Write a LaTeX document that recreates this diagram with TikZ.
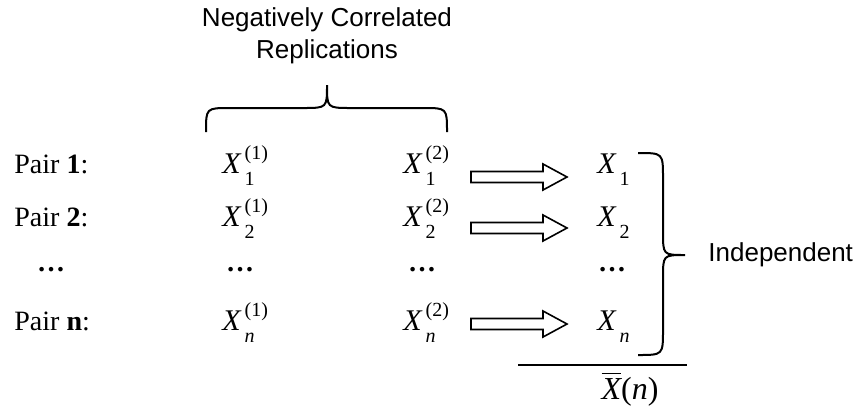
\documentclass[tikz,border=0pt]{standalone}
\usepackage{amsmath}
\usepackage{fontspec}
\setmainfont{Liberation Serif}
\newfontfamily\arialfont{Liberation Sans}
\usetikzlibrary{calc}

% X with stacked index and replication number
\newcommand{\scr}{\fontsize{10}{10}\selectfont}
\newcommand{\xvar}[2]{\textit{X}\kern1.5pt\makebox[0pt][l]{\raisebox{7pt}{\scr #2}}\raisebox{-6pt}{\scr #1}}

% hollow block arrow between two named nodes
\newcommand{\blockarrow}[3]{%
  \coordinate (s) at ($(#1.base west)+(68,#3)$);
  \coordinate (e) at ($(#2.base west)+(-30,#3)$);
  \draw[line width=0.8pt] ($(s)+(0,-5.5)$) -- ($(e)+(-24,-5.5)$) -- ($(e)+(-24,-13)$)
    -- (e) -- ($(e)+(-24,13)$) -- ($(e)+(-24,5.5)$) -- ($(s)+(0,5.5)$) -- cycle;
}

\begin{document}
\begin{tikzpicture}[x=0.5pt, y=-0.5pt,
    every node/.style={font=\fontsize{14}{16}\selectfont, inner sep=0pt},
    lbl/.style={anchor=base west},
    var/.style={anchor=base west, font=\fontsize{15}{16}\selectfont},
    dots/.style={anchor=base},
    sans/.style={font=\arialfont\fontsize{13}{16}\selectfont},
    brace/.style={line width=1pt}]
    \useasboundingbox (0,0) rectangle (861,408);

    % Title over the pairs
    \node[sans, align=center] (title) at (327,36) {Negatively Correlated\\Replications};

    % Rows
    \foreach \r/\y in {1/173, 2/226} {
        \node[lbl] (p\r) at (14,\y) {Pair \textbf{\r}:};
        \node[var] (a\r) at (222,\y) {\xvar{\r}{(1)}};
        \node[var] (b\r) at (403,\y) {\xvar{\r}{(2)}};
        \node[var] (c\r) at (597,\y) {\xvar{\r}{}};
    }
    \node[dots] (pd) at (51,271) {\textbf{\ldots}};
    \node[dots] (ad) at (240,271) {\textbf{\ldots}};
    \node[dots] (bd) at (422,271) {\textbf{\ldots}};
    \node[dots] (cd) at (612,271) {\textbf{\ldots}};
    \node[lbl] (pn) at (14,330) {Pair \textbf{n}:};
    \node[var] (an) at (222,330) {\xvar{\textit{n}}{(1)}};
    \node[var] (bn) at (403,330) {\xvar{\textit{n}}{(2)}};
    \node[var] (cn) at (597,330) {\xvar{\textit{n}}{}};

    % Arrows
    \blockarrow{b1}{c1}{4}
    \blockarrow{b2}{c2}{2}
    \blockarrow{bn}{cn}{-6}

    % Top brace
    \draw[brace] (206,132) .. controls (206,108) .. (230,108) -- (303,108)
        .. controls (327,108) .. (327,85) .. controls (327,108) .. (351,108)
        -- (423,108) .. controls (447,108) .. (447,132);

    % Right brace
    \draw[brace] (638,153) .. controls (663,153) .. (663,178) -- (663,232)
        .. controls (663,255) .. (685,255) .. controls (663,255) .. (663,278)
        -- (663,330) .. controls (663,355) .. (638,355);
    \node[sans, anchor=west] (indep) at (708,255) {Independent};

    % Sample mean
    \draw[line width=0.8pt] (518,365) -- (687,365);
    \node[anchor=base, font=\fontsize{16}{16}\selectfont] (xbar) at (630,399) {$\overline{\textit{X}}$(\textit{n})};
\end{tikzpicture}
\end{document}
